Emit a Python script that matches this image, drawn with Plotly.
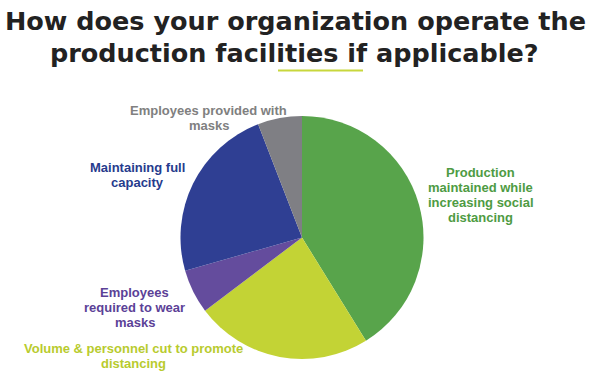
import plotly.graph_objects as go

categories = [
    "Production maintained while increasing social distancing",
    "Volume & personnel cut to promote distancing",
    "Employees required to wear masks",
    "Maintaining full capacity",
    "Employees provided with masks",
]
values = [7, 4, 1, 4, 1]
slice_colors = ["#58A44B", "#C3D335", "#644C9D", "#2F3F93", "#7F7F84"]
label_lines = [
    ["Production", "maintained while", "increasing social", "distancing"],
    ["Volume & personnel cut to promote", "distancing"],
    ["Employees", "required to wear", "masks"],
    ["Maintaining full", "capacity"],
    ["Employees provided with", "masks"],
]
label_colors = ["#4E9B43", "#B8CB2E", "#5B4197", "#263B8D", "#808080"]
label_pos = [(480.5, 172), (133, 348), (134.5, 292), (137.5, 167), (208.5, 110)]  # first-line centers
title_lines = ["How does your organization operate the", "production facilities if applicable?"]

W, H = 599, 386
cx, cy, r = 302, 237.5, 121.5
FONT = "Liberation Sans, Arial, sans-serif"

fig = go.Figure(go.Pie(
    labels=categories,
    values=values,
    marker=dict(colors=slice_colors, line=dict(width=0)),
    sort=False,
    direction="clockwise",
    rotation=0,
    textinfo="none",
    hoverinfo="label+percent",
    domain=dict(x=[(cx - r) / W, (cx + r) / W], y=[1 - (cy + r) / H, 1 - (cy - r) / H]),
    showlegend=False,
))

annotations = []
for lines, c, (x, y) in zip(label_lines, label_colors, label_pos):
    for i, t in enumerate(lines):
        annotations.append(dict(
            x=x / W, y=1 - (y + i * 15.3) / H, xref="paper", yref="paper",
            text="<b>" + t + "</b>", showarrow=False, align="center",
            font=dict(family=FONT, size=13, color=c),
            xanchor="center", yanchor="middle",
        ))

for i, (t, x, y) in enumerate(zip(title_lines, [295.5, 294.5], [21, 53])):
    annotations.append(dict(
        x=x / W, y=1 - y / H, xref="paper", yref="paper",
        text="<b>" + t + "</b>", showarrow=False, align="center",
        font=dict(family="DejaVu Sans, sans-serif", size=25.5, color="#222222"),
        xanchor="center", yanchor="middle",
    ))

fig.update_layout(
    width=W, height=H,
    margin=dict(l=0, r=0, t=0, b=0),
    paper_bgcolor="white",
    plot_bgcolor="white",
    annotations=annotations,
    shapes=[dict(type="line", xref="paper", yref="paper",
                 x0=278 / W, x1=363 / W, y0=1 - 70.5 / H, y1=1 - 70.5 / H,
                 line=dict(color="#C8D73C", width=2))],
)

fig.write_html("out.html")
